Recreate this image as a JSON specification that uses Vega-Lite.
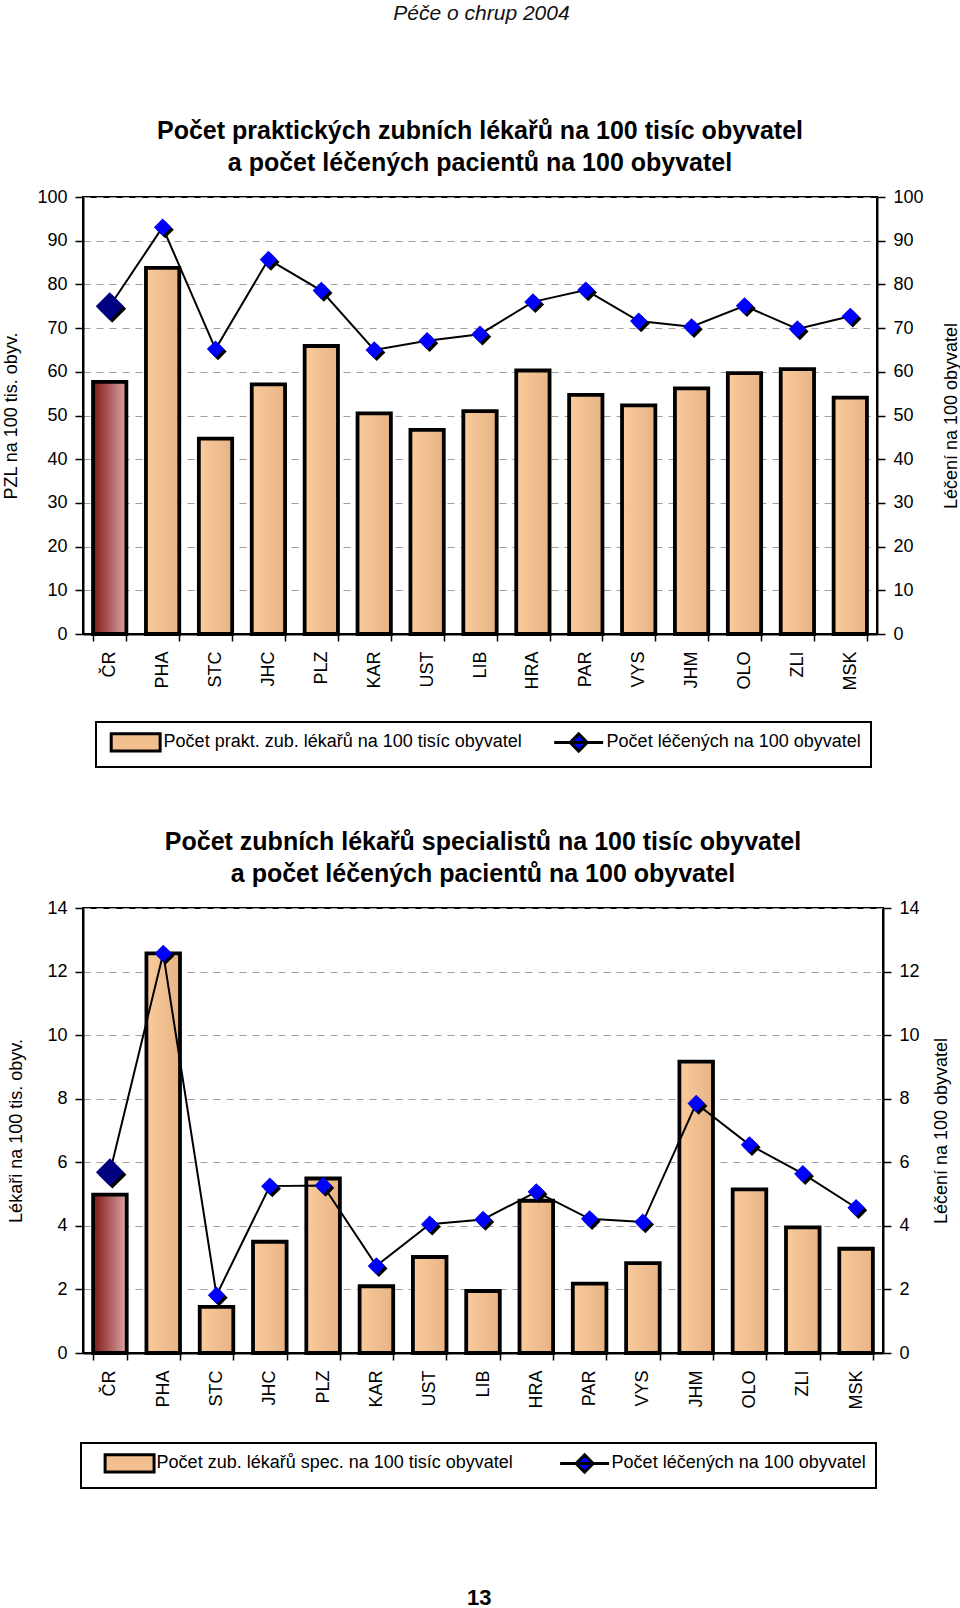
{
  "$schema": "https://vega.github.io/schema/vega-lite/v6.json",
  "padding": {"left": 1, "top": 3, "right": 0, "bottom": 0},
  "background": "white",
  "datasets": {
    "prakt": [
      {"kraj": "ČR", "lekari": 57.7, "leceni": 75.0},
      {"kraj": "PHA", "lekari": 83.8, "leceni": 93.1},
      {"kraj": "STC", "lekari": 44.7, "leceni": 65.2},
      {"kraj": "JHC", "lekari": 57.1, "leceni": 85.7},
      {"kraj": "PLZ", "lekari": 65.9, "leceni": 78.6},
      {"kraj": "KAR", "lekari": 50.5, "leceni": 65.0},
      {"kraj": "UST", "lekari": 46.7, "leceni": 67.1},
      {"kraj": "LIB", "lekari": 51.0, "leceni": 68.6},
      {"kraj": "HRA", "lekari": 60.3, "leceni": 76.0},
      {"kraj": "PAR", "lekari": 54.7, "leceni": 78.7},
      {"kraj": "VYS", "lekari": 52.3, "leceni": 71.6},
      {"kraj": "JHM", "lekari": 56.2, "leceni": 70.3},
      {"kraj": "OLO", "lekari": 59.7, "leceni": 75.1},
      {"kraj": "ZLI", "lekari": 60.6, "leceni": 69.8},
      {"kraj": "MSK", "lekari": 54.1, "leceni": 72.7}
    ],
    "spec": [
      {"kraj": "ČR", "lekari": 4.98, "leceni": 5.69},
      {"kraj": "PHA", "lekari": 12.57, "leceni": 12.57},
      {"kraj": "STC", "lekari": 1.45, "leceni": 1.82},
      {"kraj": "JHC", "lekari": 3.5, "leceni": 5.25},
      {"kraj": "PLZ", "lekari": 5.49, "leceni": 5.27},
      {"kraj": "KAR", "lekari": 2.1, "leceni": 2.74},
      {"kraj": "UST", "lekari": 3.02, "leceni": 4.05},
      {"kraj": "LIB", "lekari": 1.95, "leceni": 4.2},
      {"kraj": "HRA", "lekari": 4.79, "leceni": 5.07},
      {"kraj": "PAR", "lekari": 2.18, "leceni": 4.22},
      {"kraj": "VYS", "lekari": 2.83, "leceni": 4.12},
      {"kraj": "JHM", "lekari": 9.17, "leceni": 7.85},
      {"kraj": "OLO", "lekari": 5.15, "leceni": 6.55},
      {"kraj": "ZLI", "lekari": 3.95, "leceni": 5.64},
      {"kraj": "MSK", "lekari": 3.28, "leceni": 4.57}
    ]
  },
  "title": {"text": "Péče o chrup 2004", "anchor": "middle", "fontSize": 21, "fontStyle": "italic", "fontWeight": "normal", "color": "#111", "offset": 94},
  "spacing": 60,
  "resolve": {"scale": {"color": "independent", "shape": "independent"}},
  "vconcat": [
    {
      "width": 794,
      "height": 437,
      "data": {"name": "prakt"},
      "title": {"text": ["Počet praktických zubních lékařů na 100 tisíc obyvatel", "a počet léčených pacientů na 100 obyvatel"], "offset": 12},
      "encoding": {
        "x": {"field": "kraj", "type": "nominal",
          "scale": {"domain": ["ČR","PHA","STC","JHC","PLZ","KAR","UST","LIB","HRA","PAR","VYS","JHM","OLO","ZLI","MSK"], "paddingInner": 0.37, "paddingOuter": 0.19},
          "axis": {"title": null, "labelAngle": -90, "labelFontSize": 18, "labelPadding": 10, "tickSize": 7, "tickBand": "extent", "grid": false}}
      },
      "layer": [
        {
          "encoding": {"y": {"field": "lekari", "type": "quantitative", "scale": {"domain": [0, 100]},
            "axis": {"orient": "left", "title": "PZL na 100 tis. obyv.", "values": [0,10,20,30,40,50,60,70,80,90,100], "tickSize": 8, "labelPadding": 8, "titlePadding": 16, "grid": true, "gridDash": [7, 6], "gridColor": "#a0a0a0", "gridWidth": 1}}},
          "layer": [
            {"transform": [{"filter": "datum.kraj !== 'ČR'"}],
             "mark": {"type": "bar", "stroke": "black", "strokeWidth": 3.8,
               "color": {"gradient": "linear", "x1": 0, "y1": 0, "x2": 1, "y2": 0, "stops": [{"offset": 0, "color": "#fbcb9b"}, {"offset": 1, "color": "#e6b385"}]}}},
            {"transform": [{"filter": "datum.kraj === 'ČR'"}],
             "mark": {"type": "bar", "stroke": "black", "strokeWidth": 3.8,
               "color": {"gradient": "linear", "x1": 0, "y1": 0, "x2": 1, "y2": 0, "stops": [{"offset": 0, "color": "#7f1616"}, {"offset": 1, "color": "#dca6a6"}]}}}
          ]
        },
        {
          "encoding": {"y": {"field": "leceni", "type": "quantitative", "scale": {"domain": [0, 100]},
            "axis": {"orient": "right", "title": "Léčení na 100 obyvatel", "titleAngle": -90, "titleBaseline": "top", "values": [0,10,20,30,40,50,60,70,80,90,100], "tickSize": 8, "labelPadding": 8, "titlePadding": 19, "grid": false}}},
          "layer": [
            {"mark": {"type": "line", "color": "black", "strokeWidth": 2}},
            {"mark": {"type": "point", "shape": "diamond", "filled": true, "opacity": 1, "color": "black", "strokeWidth": 0, "xOffset": 2.5, "yOffset": 2.5},
             "encoding": {"size": {"condition": {"test": "datum.kraj === 'ČR'", "value": 780}, "value": 300}}},
            {"mark": {"type": "point", "shape": "diamond", "filled": true, "opacity": 1, "strokeWidth": 0},
             "encoding": {"size": {"condition": {"test": "datum.kraj === 'ČR'", "value": 780}, "value": 300},
               "color": {"condition": {"test": "datum.kraj === 'ČR'", "value": "#000080"}, "value": "#0000ff"}}},
            {"transform": [{"filter": "false"}],
             "mark": {"type": "point", "filled": true, "opacity": 1, "stroke": "black", "strokeWidth": 3},
             "encoding": {
               "color": {"field": "serie", "type": "nominal",
                 "scale": {"domain": ["Počet prakt. zub. lékařů na 100 tisíc obyvatel", "Počet léčených na 100 obyvatel"], "range": ["#f2bf8e", "#0000ff"]},
                 "legend": {"title": null, "orient": "none", "legendX": 13, "legendY": 525, "direction": "horizontal", "columns": 2, "symbolSize": 324, "symbolOffset": 4.2, "labelOffset": 32.9, "columnPadding": 25, "padding": 9.5, "labelFont": "Liberation Sans", "labelFontSize": 18, "labelColor": "black", "labelLimit": 800, "strokeColor": "black", "fillColor": "white", "symbolOpacity": 1, "symbolStrokeColor": "black", "symbolStrokeWidth": 3,
                   "encode": {"symbols": {"update": {"stroke": {"value": "black"}, "strokeWidth": {"value": 3}, "opacity": {"value": 1}}}}}},
               "shape": {"field": "serie", "type": "nominal",
                 "scale": {"domain": ["Počet prakt. zub. lékařů na 100 tisíc obyvatel", "Počet léčených na 100 obyvatel"], "range": ["M-1,-0.96H4.44V0.96H-1Z", "M-1,0H4.44M1.72,-0.95L2.67,0L1.72,0.95L0.77,0Z"]},
                 "legend": {"title": null, "orient": "none", "legendX": 13, "legendY": 525, "direction": "horizontal", "columns": 2, "symbolSize": 324, "symbolOffset": 4.2, "labelOffset": 32.9, "columnPadding": 25, "padding": 9.5, "labelFont": "Liberation Sans", "labelFontSize": 18, "labelColor": "black", "labelLimit": 800, "strokeColor": "black", "fillColor": "white", "symbolOpacity": 1, "symbolStrokeColor": "black", "symbolStrokeWidth": 3,
                   "encode": {"symbols": {"update": {"stroke": {"value": "black"}, "strokeWidth": {"value": 3}, "opacity": {"value": 1}}}}}}
             }}
          ]
        }
      ],
      "resolve": {"scale": {"y": "independent"}}
    },
    {
      "title": {"text": "13", "orient": "bottom", "anchor": "middle", "fontSize": 22, "fontWeight": "bold", "offset": 99},
      "vconcat": [
        {
          "width": 800,
          "height": 445,
          "data": {"name": "spec"},
          "title": {"text": ["Počet zubních lékařů specialistů na 100 tisíc obyvatel", "a počet léčených pacientů na 100 obyvatel"], "offset": 12},
          "encoding": {
            "x": {"field": "kraj", "type": "nominal",
              "scale": {"domain": ["ČR","PHA","STC","JHC","PLZ","KAR","UST","LIB","HRA","PAR","VYS","JHM","OLO","ZLI","MSK"], "paddingInner": 0.37, "paddingOuter": 0.19},
              "axis": {"title": null, "labelAngle": -90, "labelFontSize": 18, "labelPadding": 10, "tickSize": 7, "tickBand": "extent", "grid": false}}
          },
          "layer": [
            {
              "encoding": {"y": {"field": "lekari", "type": "quantitative", "scale": {"domain": [0, 14]},
                "axis": {"orient": "left", "title": "Lékaři na 100 tis. obyv.", "values": [0,2,4,6,8,10,12,14], "tickSize": 8, "labelPadding": 8, "titlePadding": 21, "grid": true, "gridDash": [7, 6], "gridColor": "#a0a0a0", "gridWidth": 1}}},
              "layer": [
                {"transform": [{"filter": "datum.kraj !== 'ČR'"}],
                 "mark": {"type": "bar", "stroke": "black", "strokeWidth": 3.8,
                   "color": {"gradient": "linear", "x1": 0, "y1": 0, "x2": 1, "y2": 0, "stops": [{"offset": 0, "color": "#fbcb9b"}, {"offset": 1, "color": "#e6b385"}]}}},
                {"transform": [{"filter": "datum.kraj === 'ČR'"}],
                 "mark": {"type": "bar", "stroke": "black", "strokeWidth": 3.8,
                   "color": {"gradient": "linear", "x1": 0, "y1": 0, "x2": 1, "y2": 0, "stops": [{"offset": 0, "color": "#7f1616"}, {"offset": 1, "color": "#dca6a6"}]}}}
              ]
            },
            {
              "encoding": {"y": {"field": "leceni", "type": "quantitative", "scale": {"domain": [0, 14]},
                "axis": {"orient": "right", "title": "Léčení na 100 obyvatel", "titleAngle": -90, "titleBaseline": "top", "values": [0,2,4,6,8,10,12,14], "tickSize": 8, "labelPadding": 8, "titlePadding": 13.6, "grid": false}}},
              "layer": [
                {"mark": {"type": "line", "color": "black", "strokeWidth": 2}},
                {"mark": {"type": "point", "shape": "diamond", "filled": true, "opacity": 1, "color": "black", "strokeWidth": 0, "xOffset": 2.5, "yOffset": 2.5},
                 "encoding": {"size": {"condition": {"test": "datum.kraj === 'ČR'", "value": 780}, "value": 300}}},
                {"mark": {"type": "point", "shape": "diamond", "filled": true, "opacity": 1, "strokeWidth": 0},
                 "encoding": {"size": {"condition": {"test": "datum.kraj === 'ČR'", "value": 780}, "value": 300},
                   "color": {"condition": {"test": "datum.kraj === 'ČR'", "value": "#000080"}, "value": "#0000ff"}}},
                {"transform": [{"filter": "false"}],
                 "mark": {"type": "point", "filled": true, "opacity": 1, "stroke": "black", "strokeWidth": 3},
                 "encoding": {
                   "color": {"field": "serie", "type": "nominal",
                     "scale": {"domain": ["Počet zub. lékařů spec. na 100 tisíc obyvatel", "Počet léčených na 100 obyvatel"], "range": ["#f2bf8e", "#0000ff"]},
                     "legend": {"title": null, "orient": "none", "legendX": -2, "legendY": 535, "direction": "horizontal", "columns": 2, "symbolSize": 324, "symbolOffset": 13.1, "labelOffset": 32, "columnPadding": 32, "padding": 9.5, "labelFont": "Liberation Sans", "labelFontSize": 18, "labelColor": "black", "labelLimit": 800, "strokeColor": "black", "fillColor": "white", "symbolOpacity": 1, "symbolStrokeColor": "black", "symbolStrokeWidth": 3,
                       "encode": {"symbols": {"update": {"stroke": {"value": "black"}, "strokeWidth": {"value": 3}, "opacity": {"value": 1}}}}}},
                   "shape": {"field": "serie", "type": "nominal",
                     "scale": {"domain": ["Počet zub. lékařů spec. na 100 tisíc obyvatel", "Počet léčených na 100 obyvatel"], "range": ["M-1,-0.96H4.44V0.96H-1Z", "M-1,0H4.44M1.72,-0.95L2.67,0L1.72,0.95L0.77,0Z"]},
                     "legend": {"title": null, "orient": "none", "legendX": -2, "legendY": 535, "direction": "horizontal", "columns": 2, "symbolSize": 324, "symbolOffset": 13.1, "labelOffset": 32, "columnPadding": 32, "padding": 9.5, "labelFont": "Liberation Sans", "labelFontSize": 18, "labelColor": "black", "labelLimit": 800, "strokeColor": "black", "fillColor": "white", "symbolOpacity": 1, "symbolStrokeColor": "black", "symbolStrokeWidth": 3,
                       "encode": {"symbols": {"update": {"stroke": {"value": "black"}, "strokeWidth": {"value": 3}, "opacity": {"value": 1}}}}}}
                 }}
              ]
            }
          ],
          "resolve": {"scale": {"y": "independent"}}
        }
      ]
    }
  ],
  "config": {
    "font": "Liberation Sans",
    "view": {"stroke": "black", "strokeWidth": 2},
    "axis": {"labelFont": "Liberation Sans", "labelFontSize": 18, "labelColor": "black", "titleFont": "Liberation Sans", "titleFontSize": 18, "titleFontWeight": "normal", "titleColor": "black", "tickColor": "black", "tickWidth": 1.5, "domainColor": "black", "domainWidth": 2},
    "title": {"font": "Liberation Sans", "fontSize": 25, "fontWeight": "bold", "color": "black", "lineHeight": 32, "anchor": "middle"},
    "legend": {"strokeWidth": 2}
  }
}
